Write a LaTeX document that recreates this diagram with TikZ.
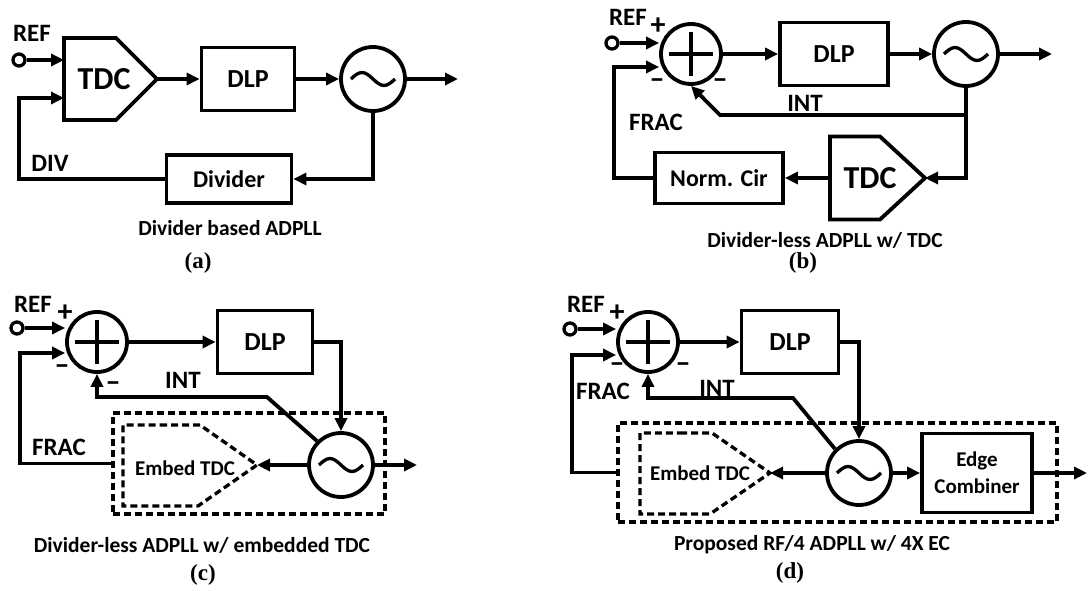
\documentclass[tikz,border=0pt]{standalone}
\usepackage{fontspec}
\setmainfont{Carlito}
\newfontfamily\serifb{Liberation Serif}
\usetikzlibrary{arrows.meta}

\newcommand{\lblfont}{\fontsize{25}{27}\selectfont\bfseries}
\newcommand{\sgnfont}{\fontsize{30}{30}\selectfont\bfseries}
\newcommand{\blkfont}{\fontsize{24}{26}\selectfont\bfseries}
\newcommand{\dlpfont}{\fontsize{26}{28}\selectfont\bfseries}
\newcommand{\tdcfont}{\fontsize{32}{34}\selectfont\bfseries}
\newcommand{\embfont}{\fontsize{21}{27}\selectfont\bfseries}
\newcommand{\capfont}{\fontsize{21.5}{24}\selectfont\bfseries}
\newcommand{\nofont}{\serifb\fontsize{23}{25}\selectfont\bfseries}

\begin{document}
\begin{tikzpicture}[x=1pt,y=-1pt,
        wire/.style={line width=3.8pt},
        arr/.style={wire,-{Triangle[length=13pt,width=12pt]}},
        blk/.style={draw,line width=3.8pt,font=\blkfont,align=center},
        dlp/.style={blk,font=\dlpfont,minimum height=63pt},
        vco/.style={circle,draw,line width=3.8pt,minimum size=64pt,inner sep=0pt,
                    path picture={\draw[line width=3.3pt] (path picture bounding box.center)
                      ++(-22,0) sin ++(11,-6.5) cos ++(11,6.5) sin ++(11,6.5) cos ++(11,-6.5);}},
        sum/.style={circle,draw,line width=3.8pt,minimum size=60pt,inner sep=0pt,
                    path picture={\draw[line width=3.8pt]
                      (path picture bounding box.center) ++(-22,0) -- ++(44,0)
                      (path picture bounding box.center) ++(0,-22) -- ++(0,44);}},
        term/.style={circle,draw,fill=white,line width=3.3pt,minimum size=12pt,inner sep=0pt},
        dsh/.style={line width=3.3pt,dash pattern=on 7pt off 4pt},
        dbox/.style={draw,dsh,inner sep=0pt},
        lbl/.style={font=\lblfont,inner sep=0pt},
        sgn/.style={font=\sgnfont,inner sep=0pt},
        tdctxt/.style={font=\tdcfont,inner sep=0pt},
        embtxt/.style={font=\embfont,inner sep=0pt},
        captxt/.style={font=\capfont,inner sep=0pt},
        figno/.style={font=\nofont,inner sep=0pt}]

  \useasboundingbox (0,0) rectangle (1088,591);

  % (a) divider based
  \node[lbl] (refAl) at (32,33) {REF};
  \draw[wire] (64,38) -- (116,38) -- (157,79) -- (116,120) -- (64,120) -- cycle;
  \coordinate (tdcA-in) at (64,79);
  \coordinate (tdcA-tip) at (157,79);
  \node[tdctxt] (tdcA) at (104,79) {TDC};
  \node[dlp,minimum width=93pt] (dlpA) at (248,79) {DLP};
  \node[vco] (vcoA) at (373,79) {};
  \coordinate (outA) at (458,79);
  \node[blk,minimum width=125pt,minimum height=48pt] (divA) at (229,179) {Divider};
  \coordinate (fbA) at (19,98);
  \node[lbl] (divAl) at (50,163) {DIV};
  \node[term] (refA) at (19,60) {};

  \draw[arr] (refA.east) -- (refA -| tdcA-in);
  \draw[arr] (divA.west) -| (fbA) -- (fbA -| tdcA-in);
  \draw[arr] (vcoA.south) |- (divA.east);
  \foreach \a/\b in {tdcA-tip/dlpA,dlpA/vcoA,vcoA/outA}{
    \draw[arr] (\a) -- (\b);
  }
  \node[captxt] (capA) at (230,228) {Divider based ADPLL};
  \node[figno] (noA) at (198,263) {(a)};

  % (b) divider-less with TDC
  \node[lbl] (refBl) at (628,17) {REF};
  \node[sgn] (plusB) at (658,26) {+};
  \node[sum] (sumB) at (691,54) {};
  \node[sgn] (mnB1) at (657,84) {–};
  \node[sgn] (mnB2) at (720,84) {–};
  \node[dlp,minimum width=108pt] (dlpB) at (834,54) {DLP};
  \node[vco] (vcoB) at (966,54) {};
  \coordinate (outB) at (1052,54);
  \draw[wire] (830,136.5) -- (880,136.5) -- (925,178) -- (880,219.5) -- (830,219.5) -- cycle;
  \coordinate (tdcB-in) at (925,178);
  \coordinate (tdcB-out) at (830,178);
  \node[tdctxt] (tdcB) at (870,178) {TDC};
  \node[blk,minimum width=128pt,minimum height=51pt] (normB) at (719,178) {Norm. Cir};
  \coordinate (fbB) at (614,67);
  \coordinate (intB) at (720,115);
  \node[lbl] (intBl) at (805,103) {INT};
  \node[lbl] (fracBl) at (656,122) {FRAC};
  \node[term] (refB) at (612,43) {};

  \draw[arr] (refB.east) -- (refB -| sumB.west);
  \draw[arr] (normB.west) -| (fbB) -- (fbB -| sumB.west);
  \draw[arr] (vcoB.south) |- (tdcB-in);
  \draw[arr] (vcoB.south |- intB) -- (intB) -- (sumB.south);
  \foreach \a/\b in {sumB/dlpB,dlpB/vcoB,vcoB/outB,tdcB-out/normB}{
    \draw[arr] (\a) -- (\b);
  }
  \node[captxt] (capB) at (825,240) {Divider-less ADPLL w/ TDC};
  \node[figno] (noB) at (803,263) {(b)};

  % (c) embedded TDC
  \node[lbl] (refCl) at (33,304) {REF};
  \node[sgn] (plusC) at (65,313) {+};
  \node[sum] (sumC) at (97,342) {};
  \node[sgn] (mnC1) at (62,370) {–};
  \node[sgn] (mnC2) at (113,387) {–};
  \node[dlp,minimum width=95pt] (dlpC) at (265,342) {DLP};
  \node[vco] (vcoC) at (341,465) {};
  \coordinate (outC) at (417,465);
  \node[dbox,minimum width=272pt,minimum height=101pt] (boxC) at (249,463.5) {};
  \draw[dsh] (160,425) -- (200,425) -- (257,465) -- (198,506) -- (123,506) -- (123,425) -- (160,425);
  \coordinate (tdcC-tip) at (257,465);
  \node[embtxt] (tdcC) at (185,468) {Embed TDC};
  \coordinate (fbC) at (20,353);
  \coordinate (intC) at (267,397);
  \node[lbl] (intCl) at (183,380) {INT};
  \node[lbl] (fracCl) at (59,447) {FRAC};
  \node[term] (refC) at (17,328) {};

  \draw[arr] (refC.east) -- (refC -| sumC.west);
  \draw[arr] (boxC.west) -| (fbC) -- (fbC -| sumC.west);
  \draw[arr] (dlpC.east) -| (vcoC.north);
  \draw[arr] (vcoC.135) -- (intC) -| (sumC.south);
  \foreach \a/\b in {sumC/dlpC,vcoC/outC,vcoC/tdcC-tip}{
    \draw[arr] (\a) -- (\b);
  }
  \node[captxt] (capC) at (202,545) {Divider-less ADPLL w/ embedded TDC};
  \node[figno] (noC) at (203,575) {(c)};

  % (d) proposed
  \node[lbl] (refDl) at (586,304) {REF};
  \node[sgn] (plusD) at (617,313) {+};
  \node[sum] (sumD) at (648,342) {};
  \node[sgn] (mnD1) at (617,368) {–};
  \node[sgn] (mnD2) at (683,368) {–};
  \node[dlp,minimum width=97pt] (dlpD) at (790,342) {DLP};
  \node[vco] (vcoD) at (859,473) {};
  \node[blk,font=\embfont,minimum width=110pt,minimum height=79pt] (ecD) at (977,473) {Edge\\Combiner};
  \coordinate (outD) at (1087,473);
  \node[dbox,minimum width=439pt,minimum height=99pt] (boxD) at (837.5,472.5) {};
  \draw[dsh] (680,433) -- (712,433) -- (770,473) -- (710,514) -- (640,514) -- (640,433) -- (680,433);
  \coordinate (tdcD-tip) at (770,473);
  \node[embtxt] (tdcD) at (700,473) {Embed TDC};
  \coordinate (fbD) at (572,355);
  \coordinate (intD) at (793,398);
  \node[lbl] (intDl) at (717,388) {INT};
  \node[lbl] (fracDl) at (603,391) {FRAC};
  \node[term] (refD) at (570,329) {};

  \draw[arr] (refD.east) -- (refD -| sumD.west);
  \draw[arr] (boxD.west) -| (fbD) -- (fbD -| sumD.west);
  \draw[arr] (dlpD.east) -| (vcoD.north);
  \draw[arr] (vcoD.135) -- (intD) -| (sumD.south);
  \foreach \a/\b in {sumD/dlpD,vcoD/ecD,ecD/outD,vcoD/tdcD-tip}{
    \draw[arr] (\a) -- (\b);
  }
  \node[captxt] (capD) at (812,545) {Proposed RF/4 ADPLL w/ 4X EC};
  \node[figno] (noD) at (790,573) {(d)};
\end{tikzpicture}
\end{document}
